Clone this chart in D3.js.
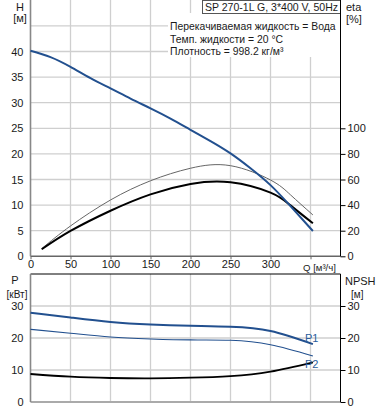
<!DOCTYPE html>
<html><head><meta charset="utf-8">
<script src="https://cdn.jsdelivr.net/npm/d3@7"></script>
<style>body{margin:0;background:#fff}svg{display:block;font-family:"Liberation Sans",Arial,sans-serif}</style>
</head><body><svg id="c" width="378" height="410"></svg>
<script>
// ---- data ----
const qTicks = [0,50,100,150,200,250,300];
const qGrid = [50,100,150,200,250,300,350];
const hTicks = [0,5,10,15,20,25,30,35,40];
const hGrid = [5,10,15,20,25,30,35,40,45];
const etaTicks = [0,20,40,60,80,100];
const pTicks = [0,10,20,30];
const npshTicks = [0,10,20,30];

const headQ = [0,25,50,75,100,125,150,175,200,225,250,275,300,325,353];
const headH = [40.16,38.9,37.0,34.8,32.8,30.8,28.9,26.9,24.7,22.5,20.1,17.2,13.9,9.8,4.94];

const etaQ = [14,50,100,150,200,250,300,325,353];
const etaTotal = [5.5,19.8,35.6,48.4,56.5,57.8,49.7,39.8,25.8];
const etaHyd = [6,23.7,44,59,68.8,70.8,59.6,48,32.3];

const powQ = [0,50,100,150,200,250,300,353];
const p1 = [27.9,26.4,25.0,24.2,23.8,23.5,22.2,18.1];
const p2 = [22.7,21.5,20.3,19.7,19.4,19.3,17.9,14.4];
const npsh = [8.75,7.9,7.5,7.4,7.6,8.1,9.5,12.4];

const title = "SP 270-1L G, 3*400 V, 50Hz";
const infoLines = ["Перекачиваемая жидкость = Вода","Темп. жидкости = 20 °C","Плотность = 998.2 кг/м³"];

// ---- scales ----
const svg = d3.select("#c");
const xL = 30.5, xR = 340.5;
const x = d3.scaleLinear().domain([0,387.5]).range([xL,xR]);
const yH = d3.scaleLinear().domain([0,50]).range([256.3,0.3]);
const yEta = d3.scaleLinear().domain([0,200]).range([256.3,0.3]);
const yP = d3.scaleLinear().domain([0,40]).range([402,274]);
const yN = d3.scaleLinear().domain([0,40]).range([402,274]);

const grid = "#cfcfcf";
const blue = "#22508f";
const txt = "#1a1a1a";

// ---- top chart grid ----
const gt = svg.append("g");
gt.selectAll(".vg").data(qGrid).join("line")
  .attr("x1",d=>x(d)).attr("x2",d=>x(d)).attr("y1",0).attr("y2",yH(0))
  .attr("stroke",grid).attr("stroke-width",1.3);
gt.selectAll(".hg").data(hGrid).join("line")
  .attr("x1",xL).attr("x2",xR).attr("y1",d=>yH(d)).attr("y2",d=>yH(d))
  .attr("stroke",grid).attr("stroke-width",1.3);

// info text background
svg.append("rect").attr("x",168).attr("y",13).attr("width",172).attr("height",44).attr("fill","#fff");
// title box
svg.append("rect").attr("x",202.5).attr("y",0.5).attr("width",138).attr("height",13)
  .attr("fill","#fff").attr("stroke","#555").attr("stroke-width",1);
svg.append("text").attr("x",205).attr("y",11).attr("font-size",10.6).attr("fill",txt)
  .attr("textLength",133).attr("lengthAdjust","spacingAndGlyphs").text(title);
svg.selectAll(".info").data(infoLines).join("text")
  .attr("x",170).attr("y",(d,i)=>30+i*12.5).attr("font-size",10.4).attr("fill",txt).text(d=>d);

// axes top
const axX = svg.append("g").attr("transform",`translate(0,${yH(0)})`)
  .call(d3.axisBottom(x).tickValues(qTicks.concat([350])).tickSize(3).tickFormat(d=>d===350?"":d));
axX.select(".domain").attr("stroke","#666").attr("stroke-width",1.5).attr("d",`M${xL},0H${xR}`);
axX.selectAll(".tick line").attr("stroke","#666");
axX.selectAll("text").attr("font-size",11).attr("fill",txt).attr("font-family","Liberation Sans, Arial").attr("dy","0.55em");
svg.append("text").attr("x",303).attr("y",270.5).attr("font-size",9.6).attr("fill",txt).text("Q [м³/ч]");

const axH = svg.append("g").attr("transform",`translate(${xL},0)`)
  .call(d3.axisLeft(yH).tickValues(hTicks).tickSize(0).tickPadding(7));
axH.select(".domain").attr("stroke","#888").attr("stroke-width",1.6).attr("d",`M0,0V${yH(0)}`);
axH.selectAll("text").attr("font-size",11).attr("fill",txt).attr("font-family","Liberation Sans, Arial");
svg.append("text").attr("x",20).attr("y",10.5).attr("text-anchor","middle").attr("font-size",11).attr("fill",txt).text("H");
svg.append("text").attr("x",20).attr("y",21.5).attr("text-anchor","middle").attr("font-size",11).attr("fill",txt).text("[м]");

const axE = svg.append("g").attr("transform",`translate(${xR},0)`)
  .call(d3.axisRight(yEta).tickValues(etaTicks).tickSize(5).tickPadding(2));
axE.select(".domain").attr("stroke","#000").attr("stroke-width",1).attr("d",`M0,0V${yH(0)}`);
axE.selectAll(".tick line").attr("stroke","#000");
axE.selectAll("text").attr("font-size",11).attr("fill",txt).attr("font-family","Liberation Sans, Arial");
svg.append("text").attr("x",346).attr("y",10.5).attr("font-size",11).attr("fill",txt).text("eta");
svg.append("text").attr("x",346).attr("y",23).attr("font-size",11).attr("fill",txt).text("[%]");

// curves top
const curve = d3.curveNatural;
const lineH = d3.line().x((d,i)=>x(headQ[i])).y(d=>yH(d)).curve(curve);
const lineEta = d3.line().x((d,i)=>x(etaQ[i])).y(d=>yEta(d)).curve(curve);
svg.append("path").attr("d",lineEta(etaHyd)).attr("fill","none").attr("stroke","#666").attr("stroke-width",1);
svg.append("path").attr("d",lineEta(etaTotal)).attr("fill","none").attr("stroke","#000").attr("stroke-width",2);
svg.append("path").attr("d",lineH(headH)).attr("fill","none").attr("stroke",blue).attr("stroke-width",2);

// ---- bottom chart ----
const gb = svg.append("g");
gb.selectAll(".vg").data(qGrid).join("line")
  .attr("x1",d=>x(d)).attr("x2",d=>x(d)).attr("y1",yP(40)).attr("y2",yP(0))
  .attr("stroke",grid).attr("stroke-width",1.3);
gb.selectAll(".hg").data([10,20,30]).join("line")
  .attr("x1",xL).attr("x2",xR).attr("y1",d=>yP(d)).attr("y2",d=>yP(d))
  .attr("stroke",grid).attr("stroke-width",1.3);
svg.append("line").attr("x1",xL).attr("x2",xR).attr("y1",yP(40)).attr("y2",yP(40)).attr("stroke","#000").attr("stroke-width",1);
svg.append("line").attr("x1",xL).attr("x2",xR).attr("y1",yP(0)).attr("y2",yP(0)).attr("stroke","#aaa").attr("stroke-width",2);

const axP = svg.append("g").attr("transform",`translate(${xL},0)`)
  .call(d3.axisLeft(yP).tickValues(pTicks).tickSize(0).tickPadding(7));
axP.select(".domain").attr("stroke","#888").attr("stroke-width",1.6).attr("d",`M0,${yP(40)}V${yP(0)}`);
axP.selectAll("text").attr("font-size",11).attr("fill",txt).attr("font-family","Liberation Sans, Arial");
svg.append("text").attr("x",15).attr("y",284).attr("text-anchor","middle").attr("font-size",11).attr("fill",txt).text("P");
svg.append("text").attr("x",17).attr("y",298).attr("text-anchor","middle").attr("font-size",10).attr("fill",txt).text("[кВт]");

const axN = svg.append("g").attr("transform",`translate(${xR},0)`)
  .call(d3.axisRight(yN).tickValues(npshTicks).tickSize(5).tickPadding(2));
axN.select(".domain").attr("stroke","#000").attr("stroke-width",1).attr("d",`M0,${yP(40)}V${yP(0)}`);
axN.selectAll(".tick line").attr("stroke","#000");
axN.selectAll("text").attr("font-size",11).attr("fill",txt).attr("font-family","Liberation Sans, Arial");
svg.append("text").attr("x",345).attr("y",285).attr("font-size",11).attr("fill",txt).text("NPSH");
svg.append("text").attr("x",351).attr("y",298).attr("font-size",10).attr("fill",txt).text("[м]");

const lineP = d3.line().x((d,i)=>x(powQ[i])).y(d=>yP(d)).curve(curve);
const lineN = d3.line().x((d,i)=>x(powQ[i])).y(d=>yN(d)).curve(curve);
svg.append("path").attr("d",lineP(p2)).attr("fill","none").attr("stroke",blue).attr("stroke-width",1.1);
svg.append("path").attr("d",lineP(p1)).attr("fill","none").attr("stroke",blue).attr("stroke-width",2);
svg.append("path").attr("d",lineN(npsh)).attr("fill","none").attr("stroke","#000").attr("stroke-width",1.8);
svg.append("text").attr("x",305).attr("y",342).attr("font-size",11).attr("fill","#2a5d9c").text("P1");
svg.append("text").attr("x",305).attr("y",367.5).attr("font-size",11).attr("fill","#2a5d9c").text("P2");
</script></body></html>
